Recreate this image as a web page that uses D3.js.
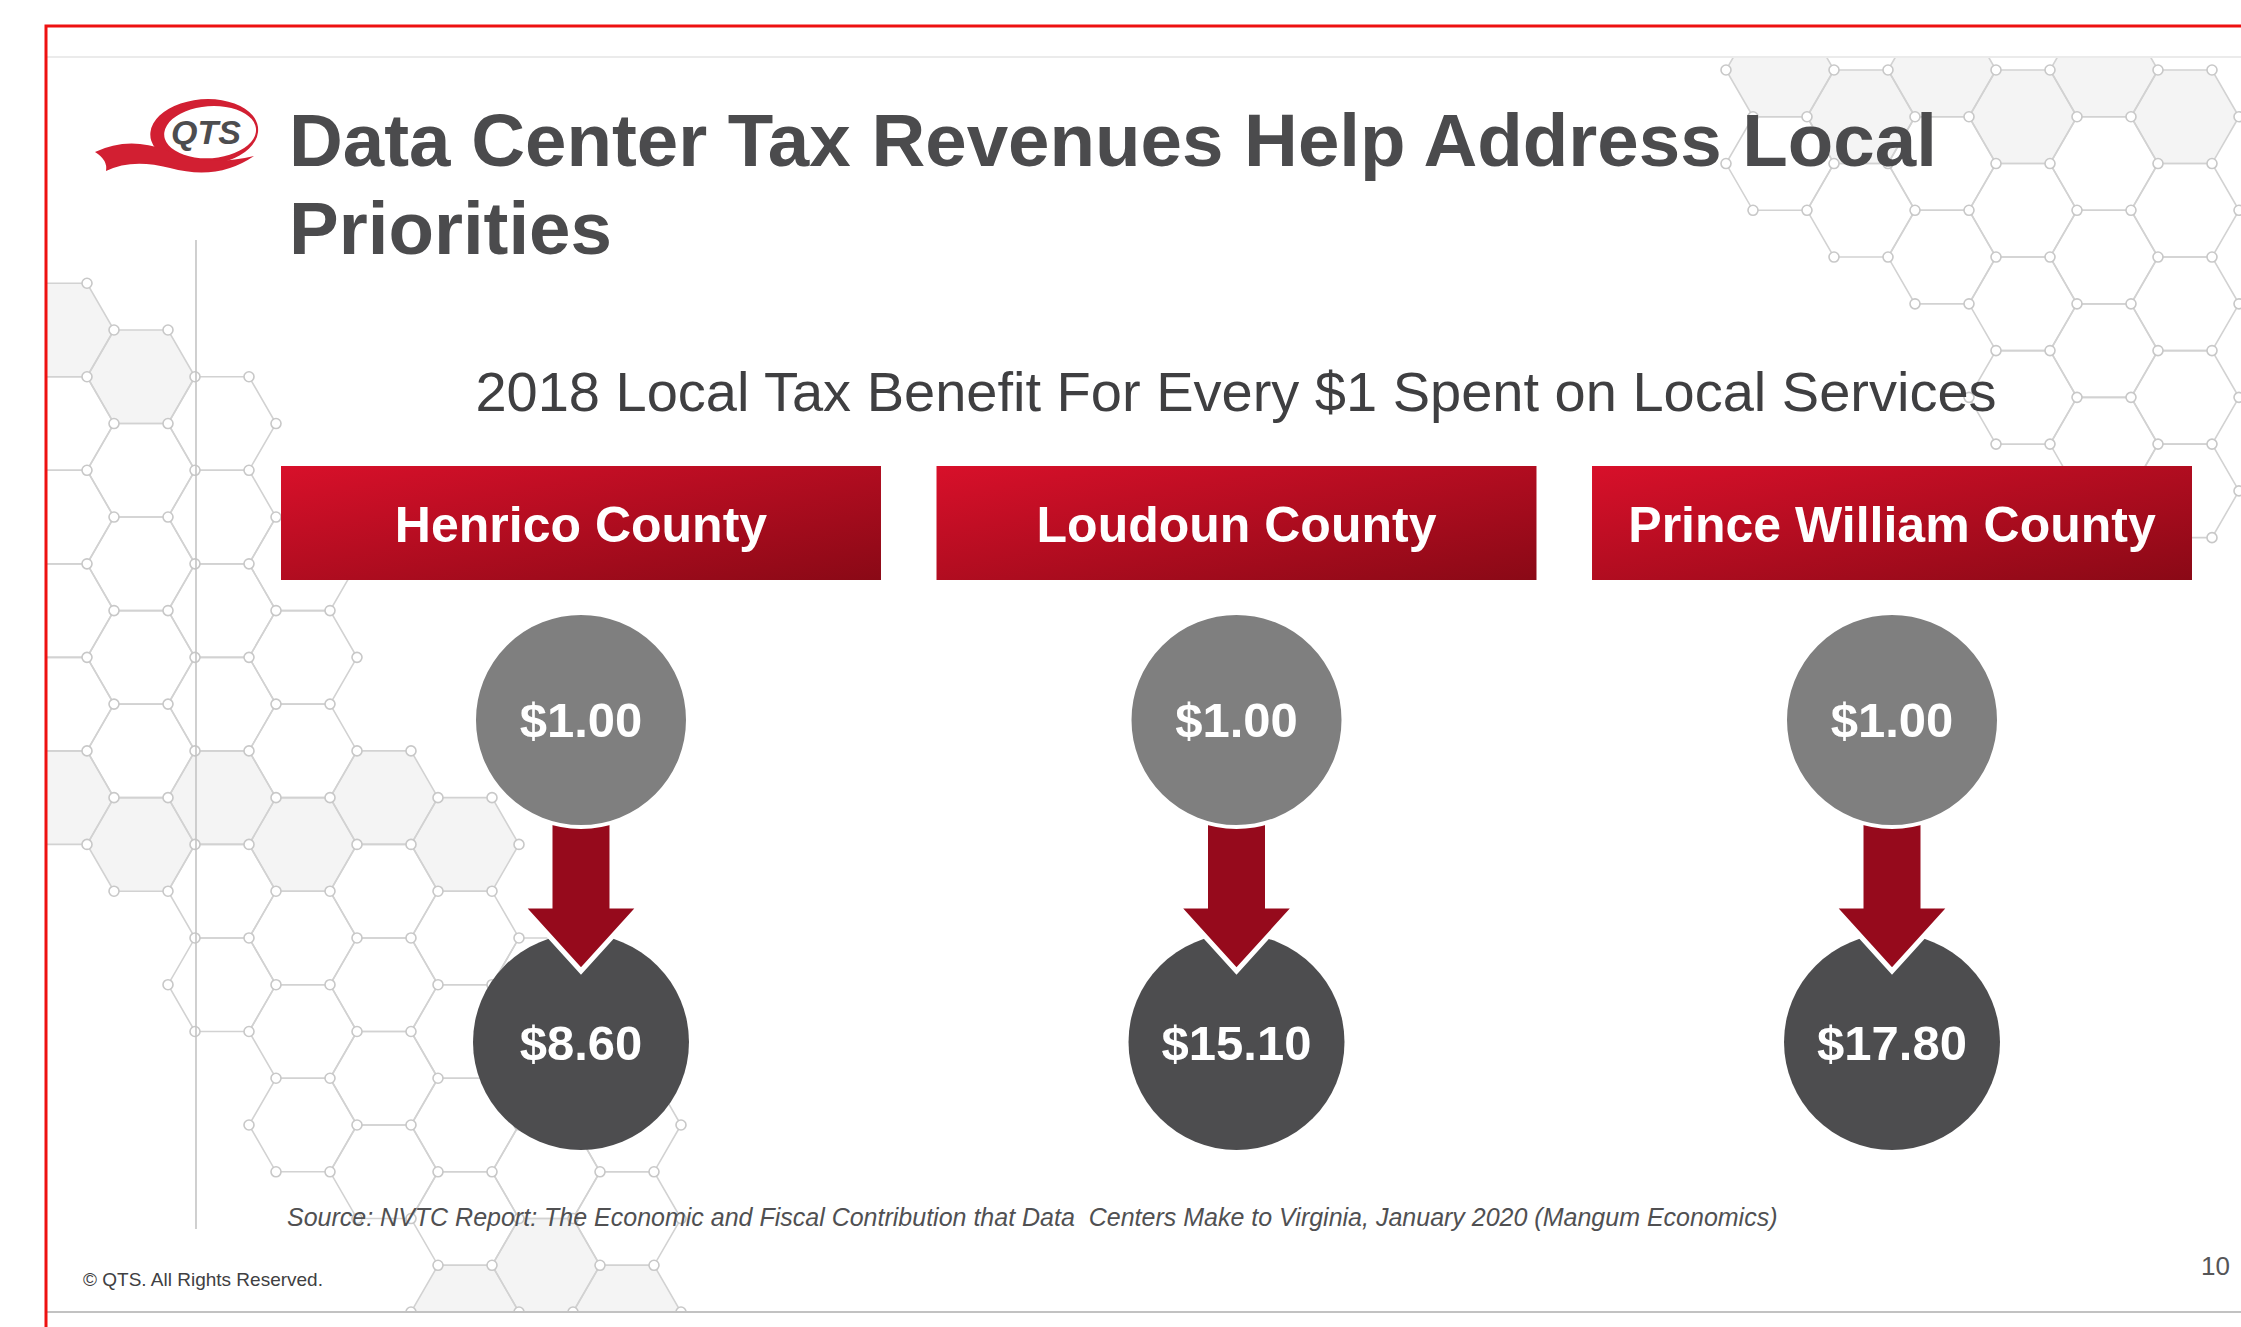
<!DOCTYPE html>
<html>
<head>
<meta charset="utf-8">
<script src="https://cdn.jsdelivr.net/npm/d3@7"></script>
<style>
body { margin: 0; background: #fff; }
svg { display: block; font-family: "Liberation Sans", Arial, sans-serif; }
</style>
</head>
<body>
<div id="chart"></div>
<script>
// chart values
var counties = ["Henrico County", "Loudoun County", "Prince William County"];
var spent = [1.00, 1.00, 1.00];
var benefit = [8.60, 15.10, 17.80];

var title = ["Data Center Tax Revenues Help Address Local", "Priorities"];
var subtitle = "2018 Local Tax Benefit For Every $1 Spent on Local Services";
var source = "Source: NVTC Report: The Economic and Fiscal Contribution that Data  Centers Make to Virginia, January 2020 (Mangum Economics)";

var width = 2241, height = 1327;

var svg = d3.select("#chart").append("svg")
  .attr("width", width)
  .attr("height", height);

var defs = svg.append("defs");
var grad = defs.append("linearGradient").attr("id", "hdr")
  .attr("x1", 0).attr("y1", 0).attr("x2", 1).attr("y2", 1);
grad.append("stop").attr("offset", "0%").attr("stop-color", "#d8102a");
grad.append("stop").attr("offset", "100%").attr("stop-color", "#8a0916");

defs.append("clipPath").attr("id", "slide")
  .append("rect").attr("x", 47).attr("y", 58).attr("width", width - 47).attr("height", 1253);

// background hexagon network
var bg = svg.append("g").attr("clip-path", "url(#slide)");

function hexPattern(poly, s, ox, oy) {
  var h = Math.sqrt(3) * s;
  var cells = [], verts = {};
  for (var c = -2; c < 60; c++) {
    for (var r = -2; r < 30; r++) {
      var cx = ox + c * 1.5 * s,
          cy = oy + r * h + ((((c % 2) + 2) % 2) ? h / 2 : 0);
      if (!d3.polygonContains(poly, [cx, cy])) continue;
      var pts = d3.range(6).map(function(i) {
        var a = Math.PI / 3 * i;
        return [cx + s * Math.cos(a), cy + s * Math.sin(a)];
      });
      cells.push({c: c, r: r, pts: pts});
      pts.forEach(function(p) { verts[Math.round(p[0]) + "," + Math.round(p[1])] = p; });
    }
  }
  bg.selectAll(null).data(cells.filter(function(d) { return (d.c * 5 + d.r * 3) % 5 === 0; }))
    .enter().append("path")
    .attr("d", function(d) { return "M" + d.pts.join("L") + "Z"; })
    .attr("fill", "#f4f4f4");
  bg.selectAll(null).data(cells)
    .enter().append("path")
    .attr("d", function(d) { return "M" + d.pts.join("L") + "Z"; })
    .attr("fill", "none")
    .attr("stroke", "#d2d2d2")
    .attr("stroke-width", 1.6);
  bg.selectAll(null).data(Object.values(verts))
    .enter().append("circle")
    .attr("cx", function(d) { return d[0]; })
    .attr("cy", function(d) { return d[1]; })
    .attr("r", 5)
    .attr("fill", "#fff")
    .attr("stroke", "#c8c8c8")
    .attr("stroke-width", 1.6);
}

hexPattern([[46, 300], [160, 300], [290, 520], [420, 800], [650, 1000], [650, 1320], [420, 1320], [230, 1020], [46, 830]], 54, 60, 330);
hexPattern([[1760, 57], [2241, 57], [2241, 540], [2120, 540], [1940, 330], [1760, 170]], 54, 1780, 70);

// frame lines
svg.append("line").attr("x1", 46).attr("x2", width).attr("y1", 57).attr("y2", 57)
  .attr("stroke", "#e4e4e4").attr("stroke-width", 1.5);
svg.append("line").attr("x1", 46).attr("x2", width).attr("y1", 1312).attr("y2", 1312)
  .attr("stroke", "#c2c2c2").attr("stroke-width", 2);
svg.append("line").attr("x1", 196).attr("x2", 196).attr("y1", 240).attr("y2", 1229)
  .attr("stroke", "#c4c4c4").attr("stroke-width", 1.6);
svg.append("rect").attr("x", 46).attr("y", 26).attr("width", width).attr("height", height)
  .attr("fill", "none").attr("stroke", "#ee1111").attr("stroke-width", 3);

// logo
var logo = svg.append("g");
logo.append("path")
  .attr("d", "M208,99 A54,33 -4 1,0 208.1,99 Z M214,106 A46,26 -4 1,1 213.9,106 Z")
  .attr("fill", "#d21f32").attr("fill-rule", "evenodd");
logo.append("path")
  .attr("d", "M95,152 Q128,136 166,150 Q205,168 254,156 Q218,181 170,168 Q132,158 106,171 Q108,160 95,152 Z")
  .attr("fill", "#d21f32");
logo.append("text").attr("x", 206).attr("y", 144)
  .attr("text-anchor", "middle")
  .attr("font-size", 34).attr("font-weight", "bold").attr("font-style", "italic")
  .attr("fill", "#4d4d4f").text("QTS");

// title
svg.append("g").selectAll("text").data(title).enter().append("text")
  .attr("x", 289)
  .attr("y", function(d, i) { return 166 + i * 88; })
  .attr("font-size", 74.5).attr("font-weight", "bold")
  .attr("fill", "#4b4b4d")
  .text(function(d) { return d; });

svg.append("text").attr("x", 1236).attr("y", 411)
  .attr("text-anchor", "middle")
  .attr("font-size", 56).attr("fill", "#3f3f41")
  .text(subtitle);

// columns
var x = d3.scaleBand()
  .domain(counties)
  .range([281, 2192])
  .paddingInner(0.0847);

var fmt = d3.format("$.2f");
var topY = 720, botY = 1042;

var col = svg.append("g").selectAll("g")
  .data(counties.map(function(c, i) { return {name: c, spent: spent[i], benefit: benefit[i]}; }))
  .enter().append("g")
  .attr("transform", function(d) { return "translate(" + (x(d.name) + x.bandwidth() / 2) + ",0)"; });

col.append("rect")
  .attr("x", -x.bandwidth() / 2).attr("y", 466)
  .attr("width", x.bandwidth()).attr("height", 114)
  .attr("fill", "url(#hdr)");
col.append("text")
  .attr("y", 542).attr("text-anchor", "middle")
  .attr("font-size", 50).attr("font-weight", "bold").attr("fill", "#fff")
  .text(function(d) { return d.name; });

col.append("circle").attr("cy", botY).attr("r", 108).attr("fill", "#4d4d4f");
col.append("path")
  .attr("d", "M-31,790 L31,790 L31,906 L59,906 L0,971 L-59,906 L-31,906 Z")
  .attr("fill", "#960a1c").attr("stroke", "#fff").attr("stroke-width", 5)
  .attr("stroke-linejoin", "miter");
col.append("circle").attr("cy", topY).attr("r", 107).attr("fill", "#7f7f7f")
  .attr("stroke", "#fff").attr("stroke-width", 4);

col.append("text")
  .attr("y", topY + 17).attr("text-anchor", "middle")
  .attr("font-size", 49).attr("font-weight", "bold").attr("fill", "#fff")
  .text(function(d) { return fmt(d.spent); });
col.append("text")
  .attr("y", botY + 18).attr("text-anchor", "middle")
  .attr("font-size", 49).attr("font-weight", "bold").attr("fill", "#fff")
  .text(function(d) { return fmt(d.benefit); });

// footer
svg.append("text").attr("x", 287).attr("y", 1226)
  .attr("font-size", 25).attr("font-style", "italic").attr("fill", "#505052")
  .style("white-space", "pre")
  .text(source);
svg.append("text").attr("x", 83).attr("y", 1286)
  .attr("font-size", 19).attr("fill", "#404042")
  .text("\u00a9 QTS. All Rights Reserved.");
svg.append("text").attr("x", 2230).attr("y", 1275)
  .attr("text-anchor", "end")
  .attr("font-size", 26).attr("fill", "#555557")
  .text("10");
</script>
</body>
</html>
